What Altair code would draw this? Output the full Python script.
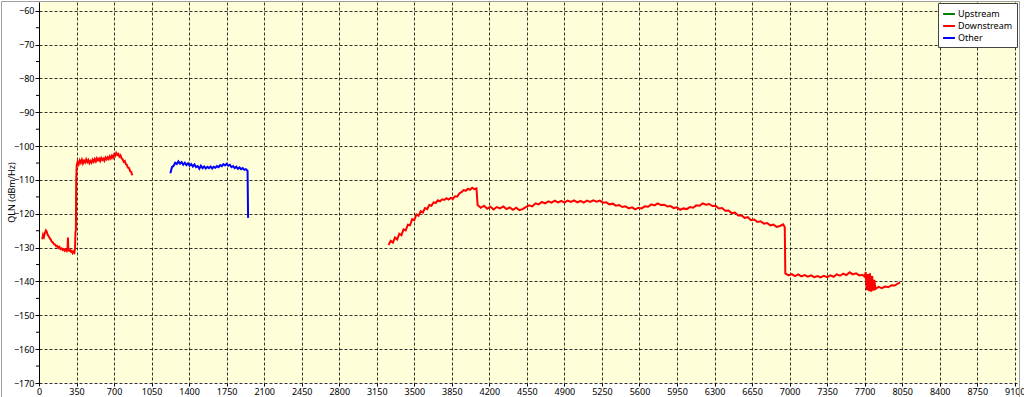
import altair as alt
import pandas as pd

# ---- data ----
# Downstream band 1 (tone index, QLN dBm/Hz)
a_tone = [30, 38, 46, 55, 64, 72, 80, 90, 100, 110,
          120, 130, 140, 150, 160, 170, 180, 190, 200, 210,
          220, 230, 240, 250, 260, 266, 270, 274, 282, 290,
          298, 306, 314, 322, 330, 336, 340, 344, 347, 352,
          360, 370, 380, 390, 400, 410, 420, 430, 440, 450,
          460, 470, 480, 490, 500, 510, 520, 530, 540, 550,
          560, 570, 580, 590, 600, 610, 620, 630, 640, 650,
          660, 670, 680, 690, 700, 710, 720, 730, 740, 750,
          760, 770, 780, 790, 800, 810, 820, 830, 840, 850,
          860, 870]
a_qln = [-127.5, -126.2, -126.8, -125.6, -124.9, -125.3, -126.1, -126.6, -127.2, -127.6,
         -128.3, -128.5, -129.0, -129.1, -129.6, -129.5, -130.1, -129.8, -130.4, -130.2,
         -130.7, -130.4, -130.9, -130.5, -131.0, -130.6, -127.0, -130.8, -130.9, -130.6,
         -131.2, -131.0, -131.6, -131.2, -131.5, -130.2, -125.5, -124.8, -110.0, -105.6,
         -104.6, -105.4, -104.2, -104.9, -104.0, -105.1, -104.3, -104.8, -103.9, -104.7,
         -104.1, -105.0, -104.4, -104.9, -104.0, -104.6, -103.8, -104.5, -103.6, -104.2,
         -103.7, -104.4, -103.5, -104.1, -103.7, -104.3, -103.4, -103.9, -103.3, -103.8,
         -103.0, -103.6, -102.8, -103.4, -102.5, -102.9, -102.0, -102.6, -102.3, -103.1,
         -102.7, -103.6, -103.9, -104.6, -104.4, -105.3, -105.6, -106.4, -106.5, -107.4,
         -107.6, -108.6]

# Other band (blue)
b_tone = list(range(1225, 1946, 15)) + [1950]
b_qln = [-108.0, -106.2, -105.8, -104.9, -105.3, -104.5, -105.2, -104.7, -105.5, -104.9,
         -105.6, -105.1, -105.8, -105.3, -106.0, -105.4, -106.2, -105.9, -106.7, -105.8,
         -106.5, -106.0, -106.6, -106.1, -106.5, -106.0, -106.6, -106.1, -106.4, -105.9,
         -106.2, -105.6, -105.9, -105.3, -105.7, -105.2, -105.8, -105.5, -106.2, -105.9,
         -106.5, -106.1, -106.7, -106.3, -106.8, -106.5, -107.0, -106.8, -107.3, -121.2]

# Downstream band 2
c_tone = (list(range(3260, 4081, 20)) + list(range(4090, 6941, 30)) + [6955]
          + list(range(6960, 7681, 30)) + [7700] + list(range(7710, 7801, 10))
          + list(range(7830, 8011, 30)) + [8030])
c_qln = [-129.2, -128.0, -128.5, -127.0, -127.6, -125.9, -126.3, -124.6, -124.9, -123.2,
         -123.4, -121.6, -121.9, -120.2, -120.6, -119.2, -119.6, -118.3, -118.6, -117.4,
         -117.6, -116.6, -116.8, -116.0, -116.3, -115.7, -115.9, -115.4, -115.8, -115.3,
         -115.6, -114.8, -114.9, -114.0, -113.6, -113.0, -113.2, -112.6, -112.9, -112.3,
         -112.7, -112.5,
         # 4090 .. 6940 step 30
         -117.4, -118.2, -117.6, -118.5, -117.9, -118.7, -118.0, -118.4, -117.8, -118.6,
         -118.1, -118.8, -118.2, -118.9, -118.6, -118.0, -117.5, -117.8, -116.9, -117.2,
         -116.5, -116.9, -116.3, -116.7, -116.1, -116.6, -116.2, -116.7, -116.1, -116.5,
         -116.0, -116.6, -116.2, -116.7, -116.1, -116.5, -116.0, -116.4, -116.1, -116.7,
         -116.6, -117.2, -117.0, -117.6, -117.4, -118.0, -117.8, -118.4, -118.1, -118.7,
         -118.2, -118.4, -117.8, -117.9, -117.2, -117.5, -116.9, -117.4, -117.3, -117.8,
         -117.7, -118.3, -118.1, -118.8, -118.4, -118.6, -118.0, -118.2, -117.5, -117.6,
         -116.9, -117.3, -117.1, -117.7, -117.6, -118.4, -118.3, -119.1, -119.0, -119.8,
         -119.6, -120.5, -120.4, -121.2, -121.0, -121.9, -121.7, -122.4, -122.2, -122.9,
         -122.7, -123.4, -123.2, -123.9, -123.6, -123.1,
         -124.0,
         # 6960 .. 7680 step 30
         -137.6, -138.2, -137.8, -138.4, -137.9, -138.5, -138.1, -138.6, -138.2, -138.7,
         -138.4, -138.8, -138.3, -138.7, -138.2, -138.6, -137.9, -138.3, -137.7, -138.1,
         -137.3, -137.9, -137.6, -138.2, -138.0,
         -138.6,
         # 7710 .. 7800
         -137.2, -142.6, -137.8, -142.9, -137.6, -143.0, -138.4, -142.7, -139.5, -142.2,
         # 7830 .. 8010
         -141.6, -142.0, -141.5, -141.7, -141.1, -141.2, -140.6,
         -140.3]

series_names = ["Upstream", "Downstream", "Other"]
series_colors = ["#008000", "#FF0000", "#0000FF"]

x_ticks = list(range(0, 9101, 350))
y_ticks = list(range(-170, -59, 10))
y_minor = list(range(-165, -64, 10))

df = pd.concat([
    pd.DataFrame({"tone": a_tone, "qln": a_qln, "type": "Downstream", "seg": "A"}),
    pd.DataFrame({"tone": b_tone, "qln": b_qln, "type": "Other", "seg": "B"}),
    pd.DataFrame({"tone": c_tone, "qln": c_qln, "type": "Downstream", "seg": "C"}),
], ignore_index=True)

xscale = alt.Scale(domain=[0, 9130], nice=False, zero=False)
yscale = alt.Scale(domain=[-170, -57.4], nice=False, zero=False)

y_axis = alt.Axis(values=y_ticks, title="QLN (dBm/Hz)", grid=True,
                  format="d", tickSize=4, labelPadding=1, labelFontSize=9,
                  labelOverlap=False, labelFlush=False,
                  titleX=-28, titleY=190, titleAngle=270,
                  titleAlign="center", titleBaseline="middle")

lines = alt.Chart(df).mark_line(strokeWidth=2, clip=True).encode(
    x=alt.X("tone:Q", scale=xscale,
            axis=alt.Axis(values=x_ticks, title=None, domain=False, grid=True,
                          format="d", tickSize=3, labelPadding=1, labelFontSize=9,
                          labelFlush=False, labelOverlap=False)),
    y=alt.Y("qln:Q", scale=yscale, axis=y_axis),
    color=alt.Color("type:N",
                    scale=alt.Scale(domain=series_names, range=series_colors),
                    legend=alt.Legend(title=None, orient="top-right", offset=1,
                                      symbolType="stroke", symbolStrokeWidth=2,
                                      symbolSize=140, labelFontSize=9,
                                      labelFont="Noto Sans", rowPadding=0,
                                      padding=4, labelOffset=2,
                                      fillColor="white", strokeColor="#444")),
    detail="seg:N",
    order="tone:Q",
)

minor = alt.Chart(pd.DataFrame({"qln": y_minor})).mark_rule(color="black").encode(
    y=alt.Y("qln:Q", scale=yscale, axis=y_axis),
    x=alt.value(-3), x2=alt.value(0),
)

frame = alt.Chart(pd.DataFrame({"v": [0]})).mark_rect(
    filled=False, stroke="#a0a0a0", strokeWidth=1).encode(
    x=alt.value(-37.5), x2=alt.value(980.5), y=alt.value(-0.5), y2=alt.value(396),
)

chart = alt.layer(lines, minor, frame).properties(
    width=979, height=381,
    autosize=alt.AutoSizeParams(type="none"),
    padding={"left": 39, "top": 2, "right": 6, "bottom": 14},
    background="white",
).configure_view(
    fill="#FFFFDA", stroke=None,
).configure_axis(
    labelFont="Noto Sans", labelColor="black",
    titleFont="Noto Sans", titleFontSize=9, titleFontWeight="normal", titleColor="black",
    gridColor="black", gridDash=[3, 2], gridOpacity=0.8, gridWidth=1,
    domainColor="black", tickColor="black",
)

chart.save("out.html", embed_options={"renderer": "svg", "actions": False})
